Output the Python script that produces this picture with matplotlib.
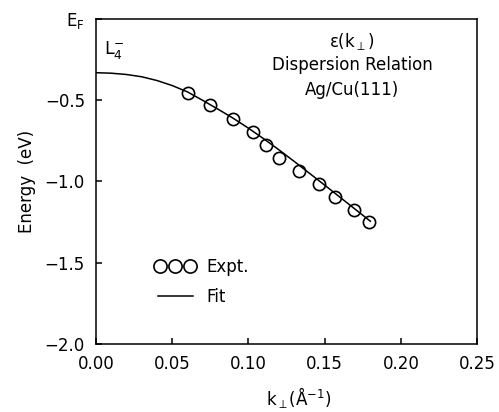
import numpy as np
import matplotlib
matplotlib.use("Agg")
import matplotlib.pyplot as plt
from matplotlib.lines import Line2D
from matplotlib.legend_handler import HandlerLine2D

# measured points (k_perp in 1/A, energy in eV)
k_expt = [0.0604, 0.0745, 0.0902, 0.1028, 0.1114, 0.1200, 0.1329, 0.1465, 0.1570, 0.1695, 0.1793]
e_expt = [-0.459, -0.532, -0.614, -0.695, -0.777, -0.855, -0.936, -1.016, -1.094, -1.176, -1.252]

# fit curve
k_fit = [0.0, 0.01, 0.02, 0.03, 0.04, 0.05, 0.06, 0.07, 0.08, 0.09, 0.10,
         0.11, 0.12, 0.13, 0.14, 0.15, 0.16, 0.17, 0.18]
e_fit = [-0.332, -0.335, -0.343, -0.357, -0.380, -0.411, -0.450, -0.502, -0.556, -0.612, -0.673,
         -0.738, -0.806, -0.877, -0.950, -1.023, -1.097, -1.171, -1.245]

xticks = [0.00, 0.05, 0.10, 0.15, 0.20, 0.25]
xticklabels = ["0.00", "0.05", "0.10", "0.15", "0.20", "0.25"]
yticks = [-2.0, -1.5, -1.0, -0.5, 0.0]
yticklabels = ["\u22122.0", "\u22121.5", "\u22121.0", "\u22120.5", "E$_\\mathrm{F}$"]

plt.rcParams["font.family"] = "DejaVu Sans"
plt.rcParams["mathtext.fontset"] = "dejavusans"

fig = plt.figure(figsize=(4.99, 4.12), dpi=100)
ax = fig.add_axes([0.1924, 0.165, 0.956 - 0.1924, 0.9546 - 0.165])

ax.plot(k_fit, e_fit, color="black", linewidth=1.1)
ax.plot(k_expt, e_expt, linestyle="none", marker="o", markersize=8.8,
        markerfacecolor="none", markeredgecolor="black", markeredgewidth=1.2)

ax.set_xlim(0.0, 0.25)
ax.set_ylim(-2.0, 0.0)
ax.set_xticks(xticks)
ax.set_xticklabels(xticklabels)
ax.set_yticks(yticks)
ax.set_yticklabels(yticklabels)
ax.tick_params(direction="in", length=4, width=1.1, labelsize=12, pad=8)
for s in ax.spines.values():
    s.set_linewidth(1.1)

ax.set_xlabel("k$_\\perp$(\u00c5$^{-1}$)", fontsize=12)
ax.xaxis.set_label_coords(0.533, -0.125)
ax.set_ylabel("Energy  (eV)", fontsize=12, labelpad=6)

ax.text(0.005, -0.19, "L$_4^{-}$", fontsize=12.5, ha="left", va="center")
ax.text(0.168, -0.14, "\u03b5(k$_\\perp$)", fontsize=12, ha="center", va="center")
ax.text(0.168, -0.285, "Dispersion Relation", fontsize=12, ha="center", va="center")
ax.text(0.168, -0.44, "Ag/Cu(111)", fontsize=12, ha="center", va="center")

expt_handle = Line2D([], [], linestyle="none", marker="o", markersize=9.5,
                     markerfacecolor="none", markeredgecolor="black", markeredgewidth=1.2)
fit_handle = Line2D([], [], color="black", linewidth=1.1)
ax.legend([expt_handle, fit_handle], ["Expt.", "Fit"], loc="lower left",
          bbox_to_anchor=(0.11, 0.07), frameon=False, numpoints=3,
          handlelength=2.7, handletextpad=0.5, labelspacing=0.75, fontsize=12,
          handler_map={expt_handle: HandlerLine2D(numpoints=3, marker_pad=0.45)})

fig.savefig("out.png", dpi=100)
